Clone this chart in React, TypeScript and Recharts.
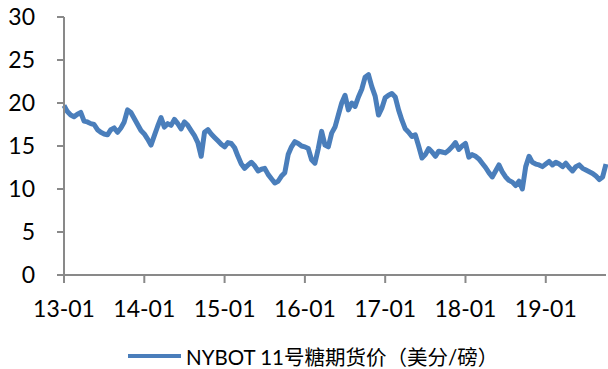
import { LineChart, Line, XAxis, YAxis } from 'recharts'

// NYBOT No.11 sugar futures, US cents per lb, two readings per month
const sugar2013 = [19.7, 19.0, 18.6, 18.4, 18.7, 18.9, 17.9, 17.8, 17.6, 17.5, 16.9, 16.6, 16.4, 16.3, 16.9, 17.1, 16.6, 17.1, 17.8, 19.2, 18.9, 18.2, 17.5, 16.8]
const sugar2014 = [16.4, 15.8, 15.1, 16.2, 17.3, 18.3, 17.2, 17.6, 17.4, 18.1, 17.6, 17.0, 17.8, 17.4, 16.8, 16.2, 15.4, 13.8, 16.6, 16.9, 16.4, 16.0, 15.6, 15.2]
const sugar2015 = [14.9, 15.4, 15.3, 14.8, 13.8, 12.9, 12.4, 12.8, 13.1, 12.7, 12.1, 12.3, 12.4, 11.7, 11.2, 10.7, 10.9, 11.5, 11.9, 14.0, 14.9, 15.5, 15.3, 15.0]
const sugar2016 = [14.9, 14.7, 13.4, 13.0, 14.7, 16.7, 15.1, 14.9, 16.5, 17.2, 18.6, 20.0, 20.9, 19.2, 20.0, 19.6, 20.7, 21.6, 23.0, 23.3, 21.9, 20.8, 18.6, 19.4]
const sugar2017 = [20.6, 20.9, 21.1, 20.7, 19.2, 18.0, 17.0, 16.6, 16.1, 16.3, 15.0, 13.6, 14.0, 14.7, 14.3, 13.8, 14.4, 14.3, 14.2, 14.5, 14.9, 15.4, 14.6, 15.0]
const sugar2018 = [15.3, 13.7, 14.0, 13.8, 13.5, 13.0, 12.5, 11.9, 11.4, 12.1, 12.8, 12.0, 11.4, 11.0, 10.8, 10.4, 10.9, 10.0, 12.6, 13.8, 13.1, 12.9, 12.8, 12.6]
const sugar2019 = [12.9, 13.2, 12.8, 13.1, 12.9, 12.6, 13.0, 12.5, 12.1, 12.6, 12.8, 12.4, 12.2, 12.0, 11.8, 11.5, 11.1, 11.4, 12.9]

const yearLabels = ['13-01', '14-01', '15-01', '16-01', '17-01', '18-01', '19-01']
const yTicks = [0, 5, 10, 15, 20, 25, 30]
const seriesName = 'NYBOT 11号糖期货价（美分/磅）'

const prices = [sugar2013, sugar2014, sugar2015, sugar2016, sugar2017, sugar2018, sugar2019].flat()
// x is months since 2013-01
const data = prices.map((price, i) => ({ month: i / 2, price }))
const xTicks = yearLabels.map((_, i) => i * 12)

const BLUE = '#4A7EBB'
const AXIS = '#898989'
const FONT = "Lato, 'Noto Sans CJK SC', sans-serif"

export default function App() {
  return (
    <div style={{ position: 'absolute', left: 0, top: 0, width: 608, height: 369, background: '#fff' }}>
      <LineChart width={608} height={369} data={data} margin={{ top: 17, right: 2, bottom: 64, left: 0 }}>
        <XAxis
          dataKey="month"
          type="number"
          domain={[0, 81]}
          ticks={xTicks}
          tickFormatter={(v: number) => yearLabels[v / 12]}
          height={30}
          axisLine={{ stroke: AXIS, strokeWidth: 2 }}
          tickLine={{ stroke: AXIS, strokeWidth: 2 }}
          tickSize={8}
          tickMargin={18}
          tick={{ fontSize: 23, fill: '#000', fontFamily: FONT }}
          interval={0}
        />
        <YAxis
          domain={[0, 30]}
          ticks={yTicks}
          width={64}
          axisLine={{ stroke: AXIS, strokeWidth: 2 }}
          tickLine={{ stroke: AXIS, strokeWidth: 2 }}
          tickSize={7}
          tickMargin={22}
          tick={{ fontSize: 23, fill: '#000', fontFamily: FONT }}
          interval={0}
        />
        <Line
          type="linear"
          dataKey="price"
          name={seriesName}
          stroke={BLUE}
          strokeWidth={5}
          strokeLinejoin="round"
          dot={false}
          isAnimationActive={false}
        />
      </LineChart>
      {/* legend row under the axis labels */}
      <div
        style={{
          position: 'absolute', left: 128, top: 344, height: 24,
          display: 'flex', alignItems: 'center', whiteSpace: 'nowrap',
          fontFamily: FONT, fontSize: 20.5, color: '#000',
        }}
      >
        <span style={{ display: 'inline-block', width: 53, height: 4, background: BLUE, marginRight: 5 }} />
        <span>{seriesName}</span>
      </div>
    </div>
  )
}
